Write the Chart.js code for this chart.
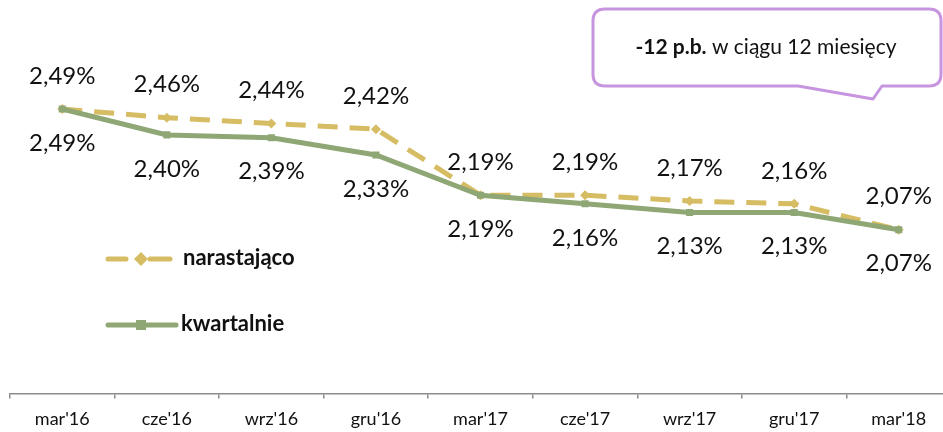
<!DOCTYPE html>
<html><head><meta charset="utf-8">
<script src="https://cdn.jsdelivr.net/npm/chart.js@4"></script>
<style>html,body{margin:0;padding:0;background:#fff;overflow:hidden;width:943px;height:432px}
#wrap{position:absolute;left:0;top:0;width:956px;height:432px}</style>
</head><body>
<div id="wrap"><canvas id="c" width="956" height="432"></canvas></div>
<script>
const categories = ["mar'16","cze'16","wrz'16","gru'16","mar'17","cze'17","wrz'17","gru'17","mar'18"];
const narastajaco = [2.49,2.46,2.44,2.42,2.19,2.19,2.17,2.16,2.07];
const kwartalnie  = [2.49,2.40,2.39,2.33,2.19,2.16,2.13,2.13,2.07];
const seriesNames = ["narastająco","kwartalnie"];
const calloutBold = "-12 p.b.";
const calloutText = " w ciągu 12 miesięcy";

const GOLD = '#D6BC62', GREEN = '#8FA775', PURPLE = '#C795DF';
const FONT = "Lato, 'Open Sans', sans-serif";
const fmt = v => v.toFixed(2).replace('.', ',') + '%';

const overlay = {
  id: 'overlay',
  afterDatasetsDraw(chart) {
    const ctx = chart.ctx;
    ctx.save();
    ctx.font = "24px " + FONT;
    ctx.fillStyle = '#111';
    ctx.textAlign = 'center';
    ctx.textBaseline = 'middle';
    const m0 = chart.getDatasetMeta(0), m1 = chart.getDatasetMeta(1);
    m0.data.forEach((p, i) => ctx.fillText(fmt(narastajaco[i]), p.x, p.y - 33));
    m1.data.forEach((p, i) => ctx.fillText(fmt(kwartalnie[i]), p.x, p.y + 34));

    // legend
    ctx.lineCap = 'round';
    ctx.lineWidth = 5;
    ctx.strokeStyle = GOLD;
    ctx.beginPath(); ctx.moveTo(108, 259); ctx.lineTo(126, 259); ctx.stroke();
    ctx.beginPath(); ctx.moveTo(150, 259); ctx.lineTo(170, 259); ctx.stroke();
    ctx.fillStyle = GOLD;
    ctx.beginPath(); ctx.moveTo(141, 252); ctx.lineTo(148, 259); ctx.lineTo(141, 266); ctx.lineTo(134, 259); ctx.closePath(); ctx.fill();
    ctx.strokeStyle = GREEN;
    ctx.beginPath(); ctx.moveTo(108, 325); ctx.lineTo(176, 325); ctx.stroke();
    ctx.fillStyle = GREEN;
    ctx.fillRect(136, 320, 10, 10);
    ctx.fillStyle = '#111';
    ctx.font = "bold 22px " + FONT;
    ctx.textAlign = 'left';
    ctx.fillText(seriesNames[0], 183, 258);
    ctx.fillText(seriesNames[1], 181, 324);

    // callout
    ctx.strokeStyle = PURPLE;
    ctx.lineWidth = 3;
    ctx.lineJoin = 'round';
    const x0 = 593, y0 = 9, x1 = 941, y1 = 86, r = 12;
    ctx.beginPath();
    ctx.moveTo(x0 + r, y0);
    ctx.lineTo(x1 - r, y0); ctx.quadraticCurveTo(x1, y0, x1, y0 + r);
    ctx.lineTo(x1, y1 - r); ctx.quadraticCurveTo(x1, y1, x1 - r, y1);
    ctx.lineTo(882, y1); ctx.lineTo(873, 99); ctx.lineTo(798, y1);
    ctx.lineTo(x0 + r, y1); ctx.quadraticCurveTo(x0, y1, x0, y1 - r);
    ctx.lineTo(x0, y0 + r); ctx.quadraticCurveTo(x0, y0, x0 + r, y0);
    ctx.closePath();
    ctx.fillStyle = '#fff'; ctx.fill(); ctx.stroke();
    ctx.fillStyle = '#111';
    ctx.font = "bold 21px " + FONT;
    const wb = ctx.measureText(calloutBold).width;
    ctx.font = "21px " + FONT;
    const wt = ctx.measureText(calloutText).width;
    let sx = 766 - (wb + wt) / 2;
    ctx.font = "bold 21px " + FONT;
    ctx.fillText(calloutBold, sx, 47);
    ctx.font = "21px " + FONT;
    ctx.fillText(calloutText, sx + wb, 47);
    ctx.restore();
  }
};

new Chart(document.getElementById('c'), {
  type: 'line',
  data: {
    labels: categories,
    datasets: [
      { label: seriesNames[0], data: narastajaco, borderColor: GOLD, backgroundColor: GOLD,
        borderWidth: 5, borderDash: [20, 12], pointStyle: 'rectRot', pointRadius: 5,
        pointBorderWidth: 0, tension: 0, order: 2 },
      { label: seriesNames[1], data: kwartalnie, borderColor: GREEN, backgroundColor: GREEN,
        borderWidth: 5, pointStyle: 'rect', pointRadius: 5, pointBorderWidth: 0, tension: 0, order: 1 }
    ]
  },
  options: {
    responsive: false, animation: false, devicePixelRatio: 1,
    layout: { padding: { left: 10, right: 0, top: 20, bottom: 2 } },
    plugins: { legend: { display: false }, tooltip: { enabled: false } },
    scales: {
      y: { display: false, min: 1.5, max: 2.8 },
      x: {
        offset: true,
        afterFit(scale) { scale.height -= 10; },
        border: { display: true, color: '#8c8c8c', width: 1.5 },
        grid: { display: true, drawOnChartArea: false, offset: true, tickLength: 5, color: '#8c8c8c', lineWidth: 1.5 },
        ticks: { color: '#111', font: { size: 18, family: FONT }, padding: 10, maxRotation: 0 }
      }
    }
  },
  plugins: [overlay]
});
</script>
</body></html>
